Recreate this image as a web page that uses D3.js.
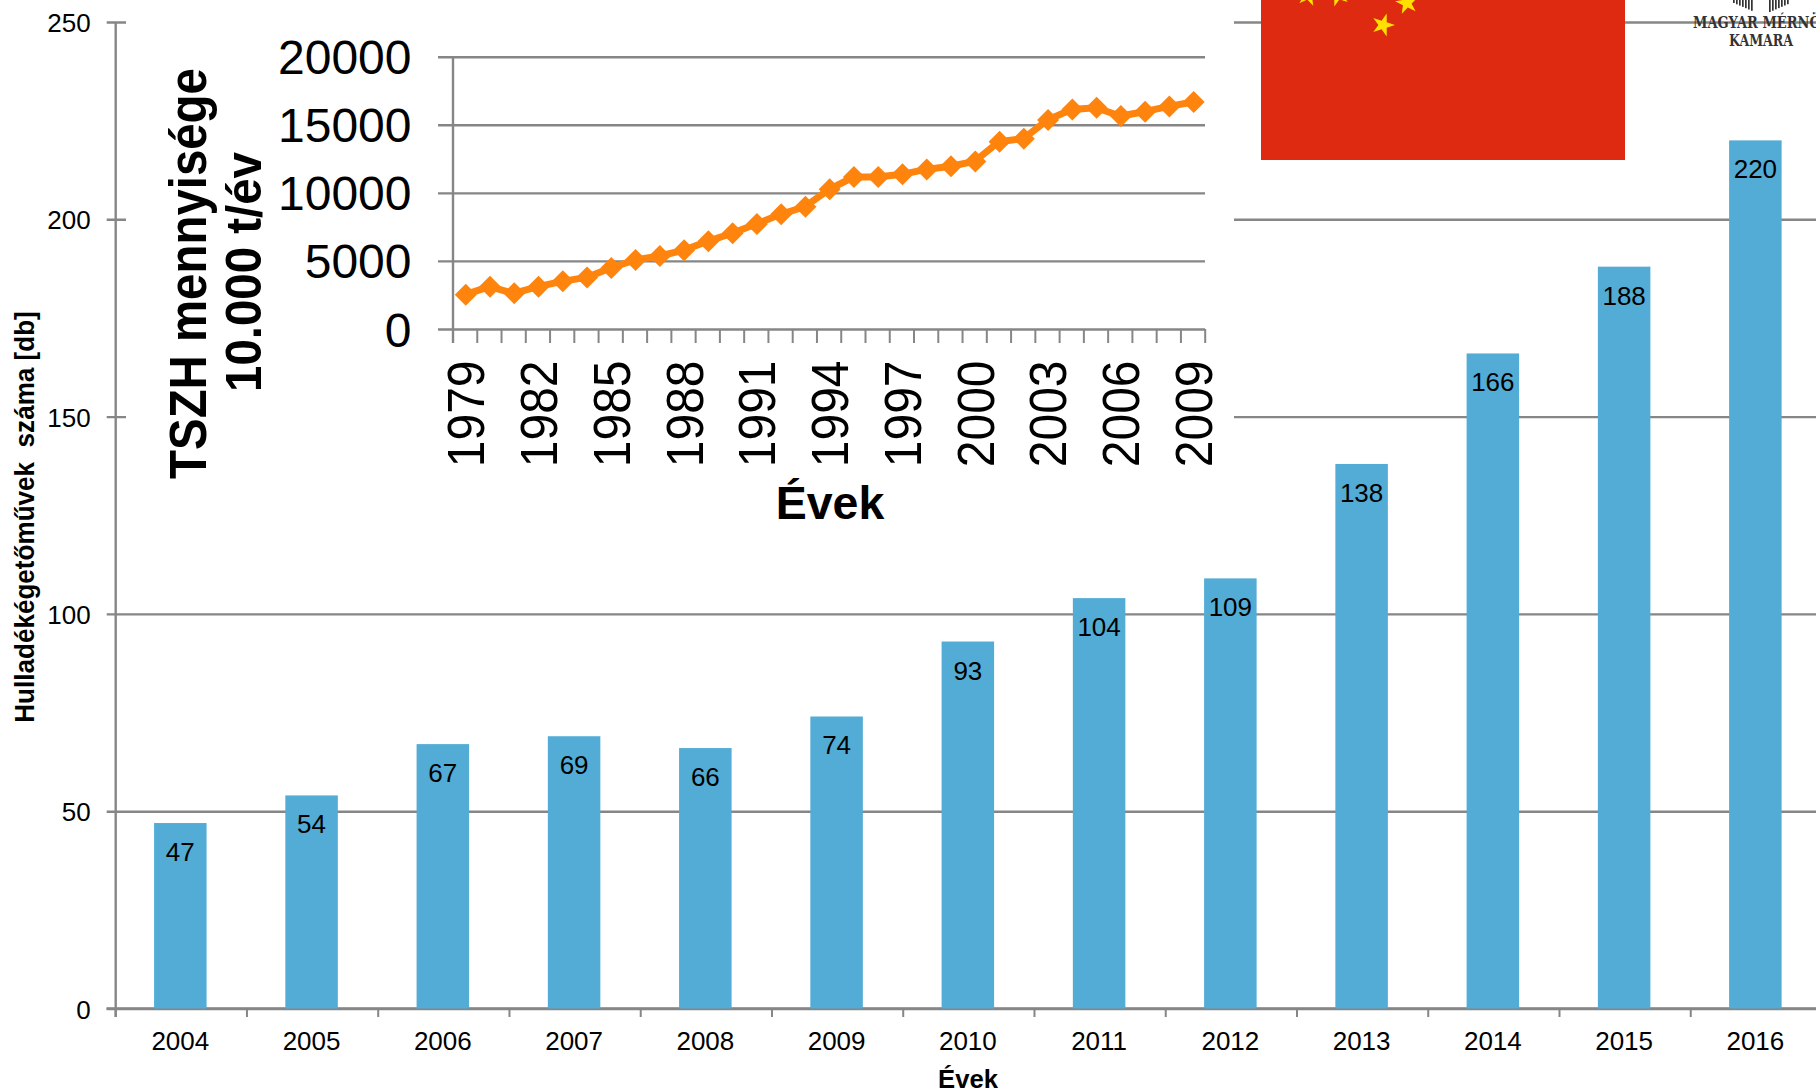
<!DOCTYPE html>
<html><head><meta charset="utf-8">
<script src="https://cdnjs.cloudflare.com/ajax/libs/d3/7.8.5/d3.min.js"></script>
<style>
html,body{margin:0;padding:0;background:#fff;overflow:hidden}
svg{display:block}
text{font-family:"Liberation Sans",Arial,sans-serif;fill:#000}
.domain{display:none}
.logo{font-family:"DejaVu Serif",serif;font-weight:bold;fill:#333}
</style></head><body>
<svg id="c" width="1816" height="1091"></svg>
<script>
const years = [2004,2005,2006,2007,2008,2009,2010,2011,2012,2013,2014,2015,2016];
const plants = [47,54,67,69,66,74,93,104,109,138,166,188,220];
const mainTicks = [0,50,100,150,200,250];
const insetYears = [1979,1980,1981,1982,1983,1984,1985,1986,1987,1988,1989,1990,1991,1992,1993,1994,1995,1996,1997,1998,1999,2000,2001,2002,2003,2004,2005,2006,2007,2008,2009];
const waste = [2520,3110,2620,3110,3500,3790,4480,5070,5360,5780,6440,7030,7710,8420,8980,10260,11160,11160,11360,11720,11950,12310,13760,13980,15350,16130,16250,15640,15960,16350,16670];
const insetTicks = [0,5000,10000,15000,20000];
const insetLabelYears = [1979,1982,1985,1988,1991,1994,1997,2000,2003,2006,2009];

const GRID="#868686", BAR="#52acd5", ORANGE="#ff840d";
const svg=d3.select("#c");

// main chart
const x=d3.scaleBand().domain(years).range([114.7,1821]).paddingInner(0.6).paddingOuter(0.3);
const y=d3.scaleLinear().domain([0,250]).range([1008.5,22]);
const main=svg.append("g");
const yAxis=main.append("g").attr("transform","translate(115.7,0)").call(d3.axisLeft(y).tickValues(mainTicks).tickSize(9).tickPadding(0));
yAxis.selectAll(".tick line").attr("x1",-9).attr("x2",1701).attr("stroke",GRID).attr("stroke-width",2.4);
yAxis.selectAll(".tick text").attr("x",-25).attr("dy",9.5).attr("text-anchor","end").attr("font-size",26).attr("font-family",null);
main.append("line").attr("x1",115.7).attr("x2",115.7).attr("y1",22).attr("y2",1017).attr("stroke",GRID).attr("stroke-width",2.4);
main.append("line").attr("x1",106.5).attr("x2",1816).attr("y1",y(0)).attr("y2",y(0)).attr("stroke",GRID).attr("stroke-width",2.4);
main.selectAll(".xt").data(d3.range(13)).join("line").attr("class","xt")
  .attr("x1",i=>115.7+i*x.step()).attr("x2",i=>115.7+i*x.step()).attr("y1",y(0)).attr("y2",1017).attr("stroke",GRID).attr("stroke-width",2);
main.selectAll(".bar").data(years).join("rect").attr("class","bar")
  .attr("x",d=>x(d)).attr("width",x.bandwidth())
  .attr("y",(d,i)=>y(plants[i])).attr("height",(d,i)=>y(0)-y(plants[i])).attr("fill",BAR);
main.selectAll(".val").data(years).join("text").attr("class","val")
  .attr("x",d=>x(d)+x.bandwidth()/2).attr("y",(d,i)=>y(plants[i])+38)
  .attr("text-anchor","middle").attr("font-size",26).text((d,i)=>plants[i]);
const xAxis=main.append("g").attr("transform","translate(0,1008.5)").call(d3.axisBottom(x).tickSize(0));
xAxis.selectAll(".tick text").attr("y",0).attr("dy",41.5).attr("font-size",26).attr("font-family",null);
main.append("text").attr("x",968).attr("y",1087.5).attr("text-anchor","middle").attr("font-weight","bold").attr("font-size",25.7).text("Évek");
main.append("text").attr("transform","translate(34,517) rotate(-90) scale(1,1.06)").attr("text-anchor","middle").attr("font-weight","bold").attr("font-size",26.1)
  .style("white-space","pre").text("Hulladékégetőművek  száma [db]");

// inset cover
svg.append("rect").attr("x",126).attr("y",0).attr("width",1108).attr("height",530).attr("fill","#fff");

// inset chart
const xi=d3.scaleBand().domain(insetYears).range([453,1205.2]);
const yi=d3.scaleLinear().domain([0,20000]).range([329,56.7]);
const inset=svg.append("g");
const yiAxis=inset.append("g").attr("transform","translate(453,0)").call(d3.axisLeft(yi).tickValues(insetTicks).tickSize(15).tickFormat(d3.format("d")));
yiAxis.selectAll(".tick line").attr("x1",-15).attr("x2",752).attr("stroke",GRID).attr("stroke-width",2.4);
yiAxis.selectAll(".tick text").attr("x",-41.5).attr("dy",17).attr("text-anchor","end").attr("font-size",48).attr("font-family",null);
inset.append("line").attr("x1",453).attr("x2",453).attr("y1",56.7).attr("y2",343).attr("stroke",GRID).attr("stroke-width",2.4);
inset.selectAll(".xt").data(d3.range(1,32)).join("line").attr("class","xt")
  .attr("x1",i=>453+i*xi.step()).attr("x2",i=>453+i*xi.step()).attr("y1",329).attr("y2",343).attr("stroke",GRID).attr("stroke-width",2);
const xiAxis=inset.append("g").attr("transform","translate(0,329)").call(d3.axisBottom(xi).tickValues(insetLabelYears).tickSize(0));
xiAxis.selectAll(".tick text").attr("x",0).attr("y",0).attr("dy",0).attr("text-anchor","end")
  .attr("transform","translate(19,31.5) rotate(-90) scale(1,1.08)").attr("font-size",48).attr("font-family",null);
const cx=d=>xi(d)+xi.bandwidth()/2;
inset.append("path").datum(insetYears).attr("fill","none").attr("stroke",ORANGE).attr("stroke-width",7).attr("stroke-linejoin","round")
  .attr("d",d3.line().x(cx).y((d,i)=>yi(waste[i])));
inset.selectAll(".pt").data(insetYears).join("path").attr("class","pt").attr("fill",ORANGE)
  .attr("transform",(d,i)=>`translate(${cx(d)+0.6},${yi(waste[i])})`)
  .attr("d","M0,-11L11,0L0,11L-11,0Z");
inset.append("text").attr("x",830).attr("y",519).attr("text-anchor","middle").attr("font-weight","bold").attr("font-size",46.5).text("Évek");
inset.append("text").attr("transform","translate(206,273.5) rotate(-90) scale(1,1.08)").attr("text-anchor","middle").attr("font-weight","bold").attr("font-size",47.4).text("TSZH mennyisége");
inset.append("text").attr("transform","translate(260.7,272) rotate(-90) scale(1,1.06)").attr("text-anchor","middle").attr("font-weight","bold").attr("font-size",47.4).text("10.000 t/év");

// flag picture
svg.append("rect").attr("x",1261).attr("y",0).attr("width",364).attr("height",160).attr("fill","#de2a10");
const star=d3.range(10).map(i=>{const r=i%2?4.6:12,a=i*Math.PI/5;return [r*Math.sin(a),-r*Math.cos(a)];});
const starPath="M"+star.map(p=>p.join(",")).join("L")+"Z";
svg.selectAll(".star").data([[1383,25,18],[1407,3,-10],[1308,-5,10],[1338,-5,-18]]).join("path").attr("class","star")
  .attr("d",starPath).attr("fill","#ffe000").attr("transform",d=>`translate(${d[0]},${d[1]}) rotate(${d[2]})`);

// logo picture
const logo=svg.append("g").attr("fill","#333");
logo.selectAll(".s1").data(d3.range(7)).join("rect").attr("class","s1").attr("x",i=>1733+i*3).attr("y",0).attr("width",1.7).attr("height",i=>3+i*1.3);
logo.selectAll(".s2").data(d3.range(7)).join("rect").attr("class","s2").attr("x",i=>1769+i*3).attr("y",0).attr("width",1.7).attr("height",i=>12-i*1.3);
svg.append("text").attr("class","logo").attr("x",1693).attr("y",28).attr("font-size",17).attr("textLength",139).attr("lengthAdjust","spacingAndGlyphs").text("MAGYAR MÉRNÖK");
svg.append("text").attr("class","logo").attr("x",1729).attr("y",45.5).attr("font-size",17).attr("textLength",64).attr("lengthAdjust","spacingAndGlyphs").text("KAMARA");
</script>
</body></html>
